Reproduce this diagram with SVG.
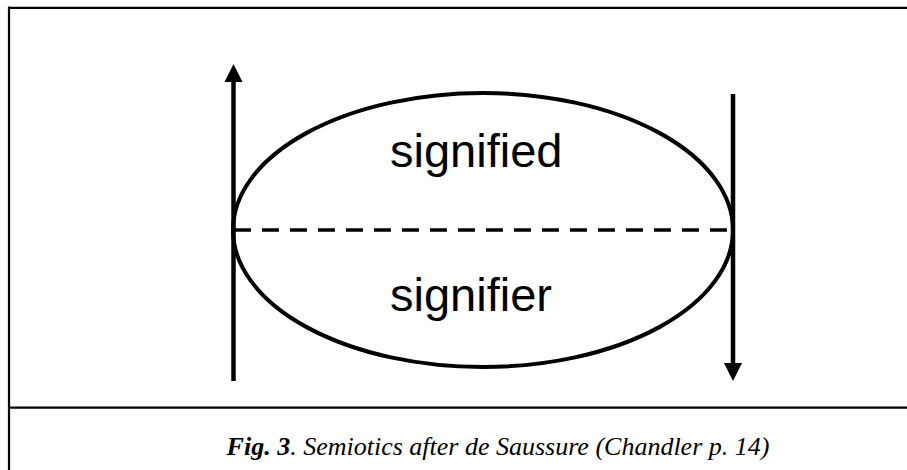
<svg xmlns="http://www.w3.org/2000/svg" width="907" height="470" viewBox="0 0 907 470">
<style>
.frame{stroke:#000;stroke-width:2.2;fill:none}
.conn{stroke:#000;stroke-width:4.5;fill:none}
.lbl{font-family:"Liberation Sans",Arial,sans-serif;font-size:47px;fill:#000}
.cap{font-family:"Liberation Serif","Times New Roman",serif;font-style:italic;font-size:26px;fill:#000}
</style>
<rect width="907" height="470" fill="#fff"/>
<g id="frame">
<line class="frame" x1="8" y1="7.8" x2="907" y2="7.8"/>
<line class="frame" x1="9" y1="6.7" x2="9" y2="470"/>
<line class="frame" x1="8" y1="407.7" x2="907" y2="407.7"/>
</g>
<g id="sign">
<ellipse cx="483" cy="230" rx="250" ry="137" fill="none" stroke="#000" stroke-width="4"/>
<line x1="234" y1="230" x2="733" y2="230" stroke="#000" stroke-width="3.5" stroke-dasharray="17 11"/>
</g>
<g id="signified"><text class="lbl" x="390" y="167">signified</text></g>
<g id="signifier"><text class="lbl" x="390" y="311">signifier</text></g>
<g id="connectors">
<line class="conn" x1="233.5" y1="381" x2="233.5" y2="80"/>
<polygon points="233.5,64 224.5,82 242.5,82" fill="#000"/>
<line class="conn" x1="733" y1="94" x2="733" y2="365"/>
<polygon points="733,381 724,363 742,363" fill="#000"/>
</g>
<g id="caption"><text class="cap" x="498" y="455" text-anchor="middle"><tspan font-weight="bold">Fig. 3</tspan>. Semiotics after de Saussure (Chandler p. 14)</text></g>
</svg>
